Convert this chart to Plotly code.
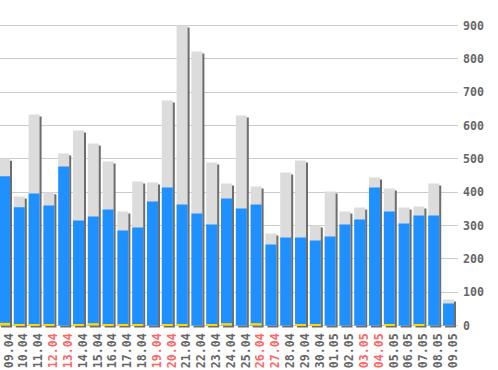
import plotly.graph_objects as go

dates = ["09.04", "10.04", "11.04", "12.04", "13.04", "14.04", "15.04", "16.04",
         "17.04", "18.04", "19.04", "20.04", "21.04", "22.04", "23.04", "24.04",
         "25.04", "26.04", "27.04", "28.04", "29.04", "30.04", "01.05", "02.05",
         "03.05", "04.05", "05.05", "06.05", "07.05", "08.05", "09.05"]
weekend = ["12.04", "13.04", "19.04", "20.04", "26.04", "27.04", "03.05", "04.05"]
total = [500, 387, 633, 400, 516, 585, 546, 492, 342, 432,
         429, 675, 900, 822, 489, 426, 630, 417, 276, 459,
         495, 300, 402, 342, 354, 444, 411, 354, 357, 426, 78]
blue = [448, 355, 396, 360, 477, 315, 327, 348, 285, 294,
        372, 414, 363, 336, 303, 381, 351, 363, 243, 264,
        264, 255, 267, 303, 318, 414, 342, 306, 330, 330, 66]
yellow = [8, 4, 4, 4, 0, 4, 7, 4, 4, 4,
          0, 4, 4, 0, 4, 7, 0, 7, 0, 0,
          4, 4, 0, 0, 0, 0, 4, 0, 4, 0, 0]
yticks = [0, 100, 200, 300, 400, 500, 600, 700, 800, 900]

idx = list(range(len(dates)))
W = 0.743
SH = 0.135
LABEL_SHIFT = 0.3

fig = go.Figure()
fig.add_trace(go.Bar(x=idx, y=total, base=-6, width=W, offset=-W / 2 + SH,
                     marker=dict(color="#6e6e6e", line_width=0), hoverinfo="skip"))
fig.add_trace(go.Bar(x=idx, y=total, width=W, offset=-W / 2,
                     marker=dict(color="#dcdcdc", line_width=0)))
fig.add_trace(go.Bar(x=idx, y=blue, width=W, offset=-W / 2,
                     marker=dict(color="#1e90ff", line_width=0)))
fig.add_trace(go.Bar(x=idx, y=yellow, width=W, offset=-W / 2,
                     marker=dict(color="#ffd700", line_width=0)))

ticktext = [f"<span style='color:#ff6666'>{d}</span>" if d in weekend else d for d in dates]

fig.update_layout(
    width=498, height=370,
    margin=dict(l=0, r=40, t=0, b=42, autoexpand=False),
    barmode="overlay",
    showlegend=False,
    plot_bgcolor="white", paper_bgcolor="white",
    font=dict(family="DejaVu Sans Mono", size=11.6, color="#666666", weight="bold"),
    xaxis=dict(range=[-0.304, 30.64], tickvals=[i + LABEL_SHIFT for i in idx],
               ticktext=ticktext,
               tickangle=-90, showgrid=False, zeroline=False, showline=False,
               ticks="", ticklabelstandoff=2, ticklabeloverflow="allow",
               automargin=False, fixedrange=True),
    yaxis=dict(range=[-7.5, 976.5], side="right", tickvals=yticks,
               showgrid=True, gridcolor="#cccccc", gridwidth=1,
               zeroline=False, showline=False, ticks="", ticklabelstandoff=4,
               ticklabeloverflow="allow", automargin=False, fixedrange=True),
)

fig.write_html("out.html", config={"displayModeBar": False},
               post_script="document.body.style.margin='0';")
